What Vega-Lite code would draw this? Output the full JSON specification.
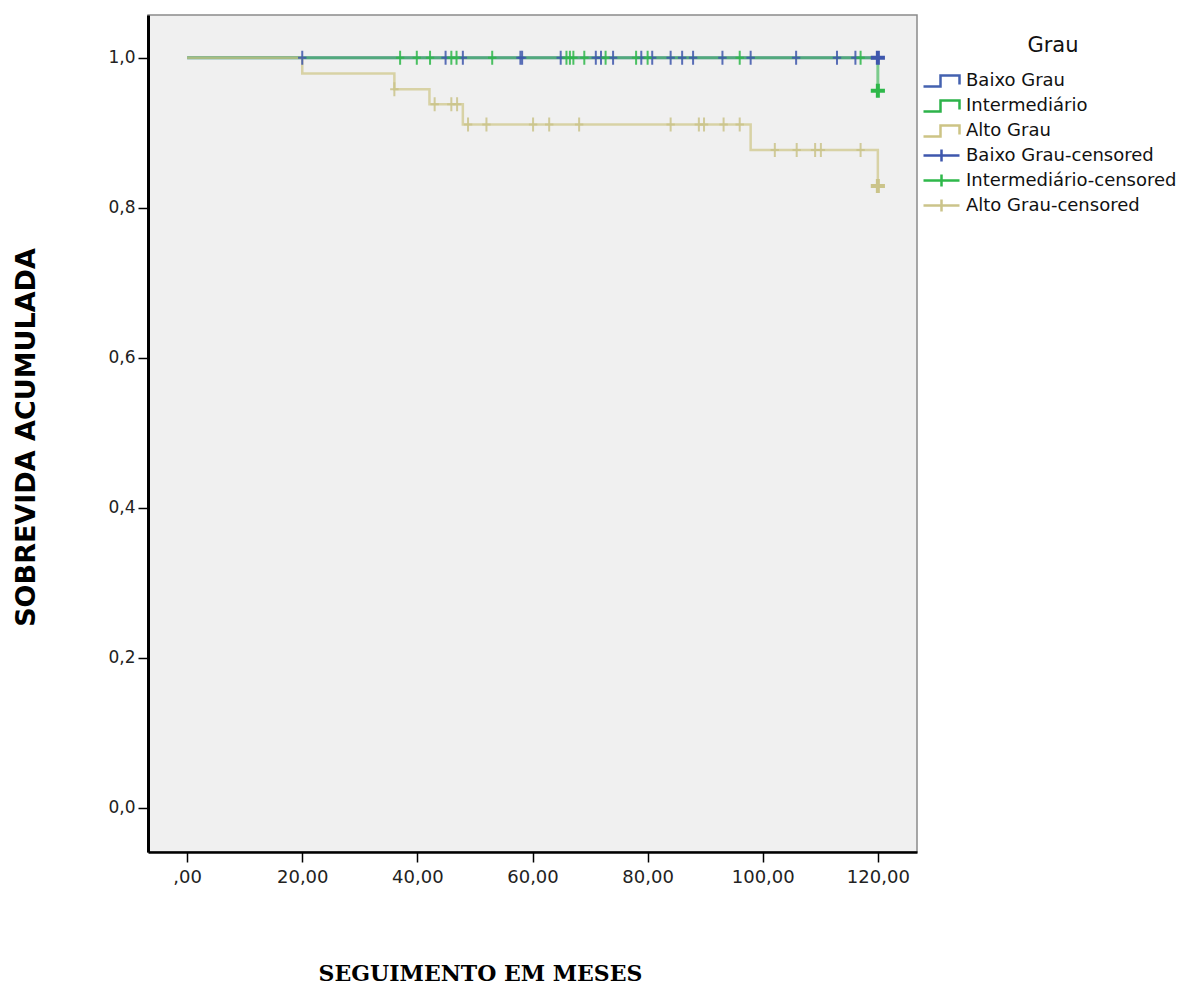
{
  "$schema": "https://vega.github.io/schema/vega-lite/v6.json",
  "autosize": "none",
  "width": 769,
  "height": 837,
  "padding": {"left": 148, "top": 15, "right": 275, "bottom": 133},
  "background": "white",
  "config": {
    "view": {"fill": "#f0f0f0", "stroke": "#8a8a8a", "strokeWidth": 1.5}
  },
  "datasets": {
    "curves": [
      {"serie": "Baixo Grau", "t": 0, "s": 1},
      {"serie": "Baixo Grau", "t": 120, "s": 1},
      {"serie": "Intermediário", "t": 0, "s": 1},
      {"serie": "Intermediário", "t": 120, "s": 0.956},
      {"serie": "Alto Grau", "t": 0, "s": 1},
      {"serie": "Alto Grau", "t": 20, "s": 0.979},
      {"serie": "Alto Grau", "t": 36, "s": 0.958},
      {"serie": "Alto Grau", "t": 42.1, "s": 0.938},
      {"serie": "Alto Grau", "t": 47.9, "s": 0.911},
      {"serie": "Alto Grau", "t": 97.9, "s": 0.877},
      {"serie": "Alto Grau", "t": 120, "s": 0.829}
    ],
    "censors": [
      {"serie": "Baixo Grau-censored", "t": 20, "s": 1},
      {"serie": "Baixo Grau-censored", "t": 44.9, "s": 1},
      {"serie": "Baixo Grau-censored", "t": 47.9, "s": 1},
      {"serie": "Baixo Grau-censored", "t": 57.9, "s": 1},
      {"serie": "Baixo Grau-censored", "t": 58.2, "s": 1},
      {"serie": "Baixo Grau-censored", "t": 64.9, "s": 1},
      {"serie": "Baixo Grau-censored", "t": 71.0, "s": 1},
      {"serie": "Baixo Grau-censored", "t": 71.9, "s": 1},
      {"serie": "Baixo Grau-censored", "t": 74.0, "s": 1},
      {"serie": "Baixo Grau-censored", "t": 78.9, "s": 1},
      {"serie": "Baixo Grau-censored", "t": 80.8, "s": 1},
      {"serie": "Baixo Grau-censored", "t": 84.0, "s": 1},
      {"serie": "Baixo Grau-censored", "t": 86.0, "s": 1},
      {"serie": "Baixo Grau-censored", "t": 87.9, "s": 1},
      {"serie": "Baixo Grau-censored", "t": 93.0, "s": 1},
      {"serie": "Baixo Grau-censored", "t": 97.9, "s": 1},
      {"serie": "Baixo Grau-censored", "t": 105.8, "s": 1},
      {"serie": "Baixo Grau-censored", "t": 112.9, "s": 1},
      {"serie": "Baixo Grau-censored", "t": 116.1, "s": 1},
      {"serie": "Baixo Grau-censored", "t": 120, "s": 1},
      {"serie": "Intermediário-censored", "t": 37.0, "s": 1},
      {"serie": "Intermediário-censored", "t": 39.9, "s": 1},
      {"serie": "Intermediário-censored", "t": 42.2, "s": 1},
      {"serie": "Intermediário-censored", "t": 45.9, "s": 1},
      {"serie": "Intermediário-censored", "t": 46.8, "s": 1},
      {"serie": "Intermediário-censored", "t": 53.0, "s": 1},
      {"serie": "Intermediário-censored", "t": 65.9, "s": 1},
      {"serie": "Intermediário-censored", "t": 66.5, "s": 1},
      {"serie": "Intermediário-censored", "t": 67.1, "s": 1},
      {"serie": "Intermediário-censored", "t": 69.0, "s": 1},
      {"serie": "Intermediário-censored", "t": 72.7, "s": 1},
      {"serie": "Intermediário-censored", "t": 78.0, "s": 1},
      {"serie": "Intermediário-censored", "t": 80.0, "s": 1},
      {"serie": "Intermediário-censored", "t": 96.0, "s": 1},
      {"serie": "Intermediário-censored", "t": 117.0, "s": 1},
      {"serie": "Intermediário-censored", "t": 120, "s": 0.956},
      {"serie": "Alto Grau-censored", "t": 36.0, "s": 0.958},
      {"serie": "Alto Grau-censored", "t": 43.0, "s": 0.938},
      {"serie": "Alto Grau-censored", "t": 45.9, "s": 0.938},
      {"serie": "Alto Grau-censored", "t": 46.9, "s": 0.938},
      {"serie": "Alto Grau-censored", "t": 48.8, "s": 0.911},
      {"serie": "Alto Grau-censored", "t": 52.0, "s": 0.911},
      {"serie": "Alto Grau-censored", "t": 60.1, "s": 0.911},
      {"serie": "Alto Grau-censored", "t": 62.9, "s": 0.911},
      {"serie": "Alto Grau-censored", "t": 68.1, "s": 0.911},
      {"serie": "Alto Grau-censored", "t": 84.0, "s": 0.911},
      {"serie": "Alto Grau-censored", "t": 88.9, "s": 0.911},
      {"serie": "Alto Grau-censored", "t": 89.8, "s": 0.911},
      {"serie": "Alto Grau-censored", "t": 93.2, "s": 0.911},
      {"serie": "Alto Grau-censored", "t": 96.0, "s": 0.911},
      {"serie": "Alto Grau-censored", "t": 102.1, "s": 0.877},
      {"serie": "Alto Grau-censored", "t": 105.9, "s": 0.877},
      {"serie": "Alto Grau-censored", "t": 109.1, "s": 0.877},
      {"serie": "Alto Grau-censored", "t": 110.1, "s": 0.877},
      {"serie": "Alto Grau-censored", "t": 117.0, "s": 0.877},
      {"serie": "Alto Grau-censored", "t": 120, "s": 0.829}
    ]
  },
  "encoding": {
    "x": {
      "field": "t", "type": "quantitative",
      "scale": {"domain": [-6.8, 126.8], "nice": false, "zero": false},
      "axis": {
        "values": [0, 20, 40, 60, 80, 100, 120],
        "labelExpr": "datum.value == 0 ? ',00' : replace(format(datum.value, '.2f'), '.', ',')",
        "grid": false,
        "domainColor": "#000000", "domainWidth": 2.5,
        "tickColor": "#000000", "tickWidth": 1.5, "tickSize": 10,
        "labelFont": "DejaVu Sans", "labelFontSize": 18, "labelColor": "#222222", "labelPadding": 6,
        "title": "SEGUIMENTO EM MESES",
        "titleFont": "DejaVu Serif", "titleFontWeight": "bold", "titleFontSize": 22, "titleColor": "#000000",
        "titleX": 332, "titleY": 128, "titleAlign": "center", "titleBaseline": "alphabetic", "titleAnchor": "middle"
      }
    },
    "y": {
      "field": "s", "type": "quantitative",
      "scale": {"domain": [-0.059, 1.057], "nice": false, "zero": false},
      "axis": {
        "values": [0, 0.2, 0.4, 0.6, 0.8, 1.0],
        "labelExpr": "replace(format(datum.value, '.1f'), '.', ',')",
        "grid": false,
        "domainColor": "#000000", "domainWidth": 3,
        "tickColor": "#000000", "tickWidth": 1.5, "tickSize": 10,
        "labelFont": "DejaVu Sans", "labelFontSize": 17, "labelColor": "#222222", "labelPadding": 3,
        "title": "SOBREVIDA ACUMULADA",
        "titleFont": "DejaVu Sans", "titleFontWeight": "bold", "titleFontSize": 27, "titleColor": "#000000",
        "titleAngle": 270, "titleX": -122, "titleY": 422, "titleAlign": "center", "titleBaseline": "middle", "titleAnchor": "middle"
      }
    },
    "color": {
      "field": "serie", "type": "nominal",
      "scale": {
        "domain": ["Baixo Grau", "Intermediário", "Alto Grau", "Baixo Grau-censored", "Intermediário-censored", "Alto Grau-censored"],
        "range": ["#4462b0", "#2db34a", "#cdc485", "#3e57ad", "#2eb84a", "#cbc48a"]
      },
      "legend": {
        "title": "Grau",
        "orient": "none",
        "legendX": 782,
        "legendY": 20,
        "padding": 0,
        "titleFont": "DejaVu Sans", "titleFontSize": 21, "titleFontWeight": "normal", "titleColor": "#111111",
        "titleAnchor": "middle", "titleAlign": "center", "titlePadding": 13,
        "labelFont": "DejaVu Sans", "labelFontSize": 18, "labelColor": "#111111", "labelOffset": 13, "labelLimit": 0,
        "symbolSize": 400, "symbolStrokeWidth": 2.5, "symbolOpacity": 1,
        "rowPadding": 2,
        "encode": {
          "symbols": {
            "update": {
              "shape": {"signal": "indexof(datum.value, 'censored') >= 0 ? 'M-1.8,0L1.8,0M0,-0.6L0,0.6' : 'M-1.8,0.6L-0.1,0.6L-0.1,-0.5L1.8,-0.5L1.8,0.4'"},
              "stroke": {"signal": "scale('color', datum.value)"},
              "fill": {"value": "transparent"},
              "strokeWidth": {"value": 2.5},
              "opacity": {"value": 1}
            }
          }
        }
      }
    }
  },
  "layer": [
    {
      "data": {"name": "curves"},
      "transform": [{"filter": "datum.serie == 'Baixo Grau'"}],
      "mark": {"type": "line", "interpolate": "step-after", "strokeWidth": 3, "opacity": 0.6},
      "encoding": {"order": {"value": null}}
    },
    {
      "data": {"name": "curves"},
      "transform": [{"filter": "datum.serie == 'Intermediário'"}],
      "mark": {"type": "line", "interpolate": "step-after", "strokeWidth": 3, "opacity": 0.6},
      "encoding": {"order": {"value": null}}
    },
    {
      "data": {"name": "curves"},
      "transform": [{"filter": "datum.serie == 'Alto Grau'"}],
      "mark": {"type": "line", "interpolate": "step-after", "strokeWidth": 2.5, "opacity": 0.7},
      "encoding": {"order": {"value": null}}
    },
    {
      "data": {"name": "censors"},
      "transform": [{"filter": "datum.t < 120"}],
      "mark": {"type": "point", "shape": "M-0.6,0L0.6,0M0,-1L0,1", "size": 196, "filled": false, "strokeWidth": 2, "opacity": 0.85}
    },
    {
      "data": {"name": "censors"},
      "transform": [{"filter": "datum.t >= 120"}],
      "mark": {"type": "point", "shape": "M-1,0L1,0M0,-1L0,1", "size": 200, "filled": false, "strokeWidth": 4, "opacity": 1}
    }
  ]
}
